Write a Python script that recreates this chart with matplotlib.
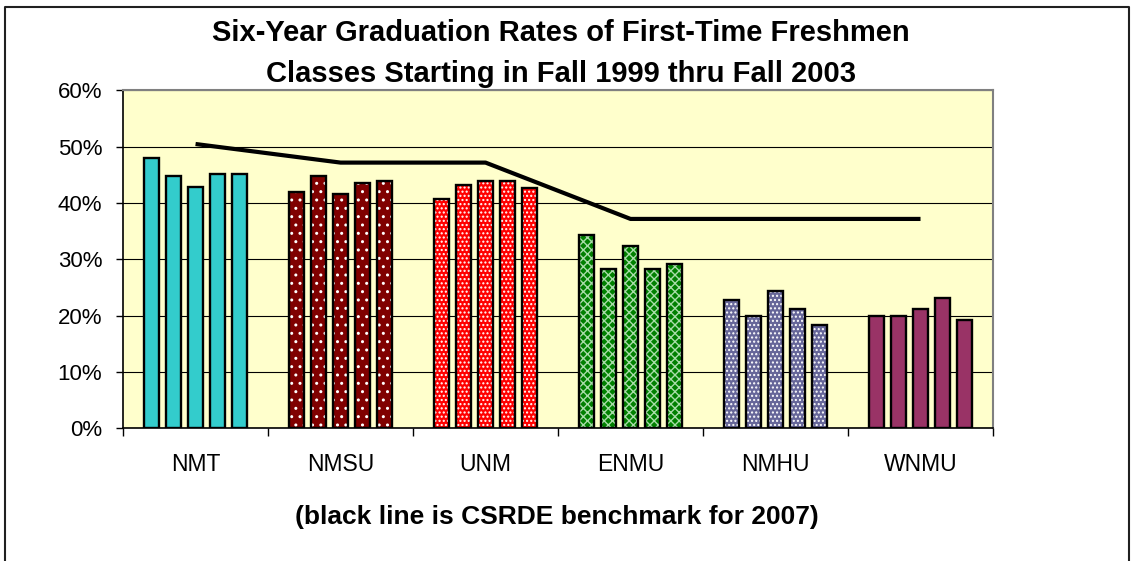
import matplotlib
matplotlib.use("Agg")
import matplotlib.pyplot as plt
import numpy as np
from matplotlib.lines import Line2D
from matplotlib.ticker import PercentFormatter

# data (percent)
schools = ['NMT', 'NMSU', 'UNM', 'ENMU', 'NMHU', 'WNMU']
cohorts = ['Fall 1999', 'Fall 2000', 'Fall 2001', 'Fall 2002', 'Fall 2003']
nmt = [48.0, 44.8, 42.8, 45.2, 45.2]
nmsu = [42.0, 44.8, 41.6, 43.6, 44.0]
unm = [40.8, 43.2, 44.0, 44.0, 42.7]
enmu = [34.3, 28.3, 32.4, 28.3, 29.2]
nmhu = [22.8, 20.0, 24.4, 21.2, 18.4]
wnmu = [20.0, 20.0, 21.2, 23.2, 19.2]
benchmark = [50.5, 47.2, 47.2, 37.2, 37.2, 37.2]

rates = [nmt, nmsu, unm, enmu, nmhu, wnmu]
# facecolor, hatch, hatch colour per school
styles = [('#33CCCC', None, 'white'),
          ('#800000', '..', 'white'),
          ('#FF0000', '....', 'white'),
          ('#008000', 'xxxx', '#A8DCA8'),
          ('#666699', '....', 'white'),
          ('#993366', None, 'white')]

plt.rcParams['font.family'] = ['Liberation Sans', 'DejaVu Sans']
plt.rcParams['hatch.linewidth'] = 1.0

fig = plt.figure(figsize=(11.31, 5.61), dpi=100)
ax = fig.add_axes([0.1088, 0.2362, 0.7692, 0.6025])
ax.set_facecolor('#FFFFCC')

step = 0.152
width = 0.1
for i, (vals, (fc, hatch, hc)) in enumerate(zip(rates, styles)):
    xs = i + (np.arange(len(cohorts)) - 2) * step
    # fill + pattern first, black outline on top
    ax.bar(xs, vals, width=width, color=fc, edgecolor=hc, linewidth=0,
           hatch=hatch, zorder=2)
    ax.bar(xs, vals, width=width, fill=False, edgecolor='black',
           linewidth=1.7, zorder=3)

ax.plot(range(len(schools)), benchmark, color='black', lw=3,
        solid_capstyle='butt', zorder=4)

ax.set_xlim(-0.5, len(schools) - 0.5)
ax.set_ylim(0, 60)
ax.set_yticks(np.arange(0, 61, 10))
ax.yaxis.set_major_formatter(PercentFormatter(decimals=0))
ax.grid(axis='y', color='black', lw=0.8, zorder=1)
ax.set_axisbelow(True)

ax.set_xticks(np.arange(-0.5, len(schools), 1))
ax.set_xticklabels([])
ax.set_xticks(range(len(schools)), minor=True)
ax.set_xticklabels(schools, minor=True)
ax.tick_params(axis='x', which='major', length=6, width=1, direction='out')
ax.tick_params(axis='x', which='minor', length=0, pad=18, labelsize=16.5)
ax.tick_params(axis='y', length=5, width=1, direction='out', pad=10,
               labelsize=16)

for s in ['left', 'bottom']:
    ax.spines[s].set_color('black')
    ax.spines[s].set_linewidth(1.2)
for s in ['top', 'right']:
    ax.spines[s].set_color('#808080')
    ax.spines[s].set_linewidth(1.5)

fig.text(560.5 / 1131, 1 - 41 / 561,
         'Six-Year Graduation Rates of First-Time Freshmen',
         ha='center', va='baseline', fontsize=21, fontweight='bold')
fig.text(560.5 / 1131, 1 - 82 / 561,
         'Classes Starting in Fall 1999 thru Fall 2003',
         ha='center', va='baseline', fontsize=21, fontweight='bold')
fig.text(557 / 1131, 1 - 517 / 561,
         '(black line is CSRDE benchmark for 2007)',
         ha='center', va='center', fontsize=19, fontweight='bold')

# outer chart frame (bottom edge is cut off in the original)
fig.add_artist(Line2D([4.5 / 1131, 4.5 / 1131, 1129 / 1131, 1129 / 1131],
                      [0, 1 - 7 / 561, 1 - 7 / 561, 0],
                      color='#202020', lw=1.5))

fig.savefig('out.png', dpi=100)
